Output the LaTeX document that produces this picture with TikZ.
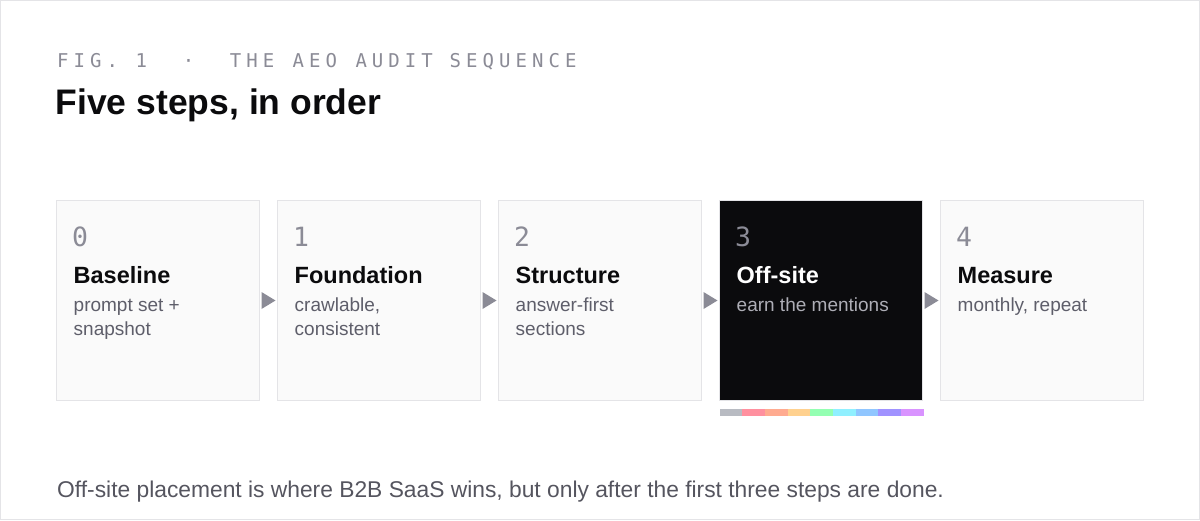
\documentclass[tikz,border=0pt]{standalone}
\usepackage{fontspec}
\setmainfont{Liberation Sans}
\newfontfamily\monofont{DejaVu Sans Mono}
\newfontfamily\monols[LetterSpace=26.6]{DejaVu Sans Mono}
\usetikzlibrary{calc}
\definecolor{frame}{HTML}{E4E4E7}
\definecolor{boxfill}{HTML}{FAFAFA}
\definecolor{ink}{HTML}{0B0B0D}
\definecolor{numgray}{HTML}{8B8B96}
\definecolor{descgray}{HTML}{5E5E6A}
\definecolor{darkdesc}{HTML}{AEAEB6}
\definecolor{capgray}{HTML}{55555F}
\definecolor{sA}{HTML}{B8BBC2}
\definecolor{sB}{HTML}{FF909F}
\definecolor{sC}{HTML}{FFAB90}
\definecolor{sD}{HTML}{FFD18F}
\definecolor{sE}{HTML}{94FFB2}
\definecolor{sF}{HTML}{90F0FF}
\definecolor{sG}{HTML}{90C6FF}
\definecolor{sH}{HTML}{A092FF}
\definecolor{sI}{HTML}{D993FF}
\tikzset{
  stepbox/.style={draw=frame, line width=1pt, fill=boxfill, anchor=north west, minimum width=203pt, minimum height=200pt, inner sep=0pt},
  darkbox/.style={stepbox, fill=ink},
  numtext/.style={anchor=base west, inner sep=0pt, text=numgray, font=\monofont\fontsize{26.5}{26.5}\selectfont},
  ttltext/.style={anchor=base west, inner sep=0pt, text=ink, font=\bfseries\fontsize{23.5}{23.5}\selectfont},
  dsctext/.style={anchor=base west, inner sep=0pt, text=descgray, font=\fontsize{19}{19}\selectfont},
  figtext/.style={anchor=base west, inner sep=0pt, text=numgray, font=\monols\fontsize{19}{19}\selectfont},
  flowtip/.style={fill=numgray, draw=none},
}
\begin{document}
\begin{tikzpicture}[x=1pt,y=-1pt]
\path[use as bounding box, fill=white, draw=frame, line width=1pt] (0.5,0.5) rectangle (1199.5,519.5);
% eyebrow: words placed on a 15.7pt monospace grid
\foreach \w/\k in {FIG./0, 1/5, ·/8, THE/11, AEO/15, AUDIT/19, SEQUENCE/25}{
  \node[figtext] (fig\k) at (57+\k*15.7,67.7) {\w};
}
\node[anchor=base west, inner sep=0pt, text=ink, font=\bfseries\fontsize{35.5}{35.5}\selectfont] (title) at (55.5,114.5) {Five steps, in order};
% boxes
\node[stepbox] (b0) at (56,200) {};
\node[stepbox] (b1) at (277,200) {};
\node[stepbox] (b2) at (498,200) {};
\node[darkbox] (b3) at (719,200) {};
\node[stepbox] (b4) at (940,200) {};
% texts
\node[numtext] (n0) at ($(b0.north west)+(16,46.5)$) {0};
\node[ttltext] (t0) at ($(b0.north west)+(17.5,83)$) {Baseline};
\node[dsctext] (d0) at ($(b0.north west)+(17.5,111.5)$) {prompt set +};
\node[dsctext] (e0) at ($(b0.north west)+(17.5,135)$) {snapshot};
\node[numtext] (n1) at ($(b1.north west)+(16,46.5)$) {1};
\node[ttltext] (t1) at ($(b1.north west)+(17.5,83)$) {Foundation};
\node[dsctext] (d1) at ($(b1.north west)+(17.5,111.5)$) {crawlable,};
\node[dsctext] (e1) at ($(b1.north west)+(17.5,135)$) {consistent};
\node[numtext] (n2) at ($(b2.north west)+(16,46.5)$) {2};
\node[ttltext] (t2) at ($(b2.north west)+(17.5,83)$) {Structure};
\node[dsctext] (d2) at ($(b2.north west)+(17.5,111.5)$) {answer-first};
\node[dsctext] (e2) at ($(b2.north west)+(17.5,135)$) {sections};
\node[numtext] (n3) at ($(b3.north west)+(16,46.5)$) {3};
\node[ttltext, text=white] (t3) at ($(b3.north west)+(17.5,83)$) {Off-site};
\node[dsctext, text=darkdesc] (d3) at ($(b3.north west)+(17.5,111.5)$) {earn the mentions};
\node[numtext] (n4) at ($(b4.north west)+(16,46.5)$) {4};
\node[ttltext] (t4) at ($(b4.north west)+(17.5,83)$) {Measure};
\node[dsctext] (d4) at ($(b4.north west)+(17.5,111.5)$) {monthly, repeat};
% connectors
\foreach \a/\b in {b0/b1,b1/b2,b2/b3,b3/b4}{
  \path[flowtip] ($(\a.east)+(1.5,-8.5)$) -- ($(\a.east)+(1.5,8.5)$) -- ($(\b.west)+(-1.5,0)$) -- cycle;
}
% colour strip
\foreach \c [count=\i from 0] in {sA,sB,sC,sD,sE,sF,sG,sH,sI}{
  \fill[\c] ($(b3.south west)+(0.5+\i*22.67,7.5)$) rectangle ($(b3.south west)+(0.5+\i*22.67+22.67,14.5)$);
}
\node[anchor=base west, inner sep=0pt, text=capgray, font=\fontsize{22.8}{22.8}\selectfont] (cap) at (57,497) {Off-site placement is where B2B SaaS wins, but only after the first three steps are done.};
\end{tikzpicture}
\end{document}
